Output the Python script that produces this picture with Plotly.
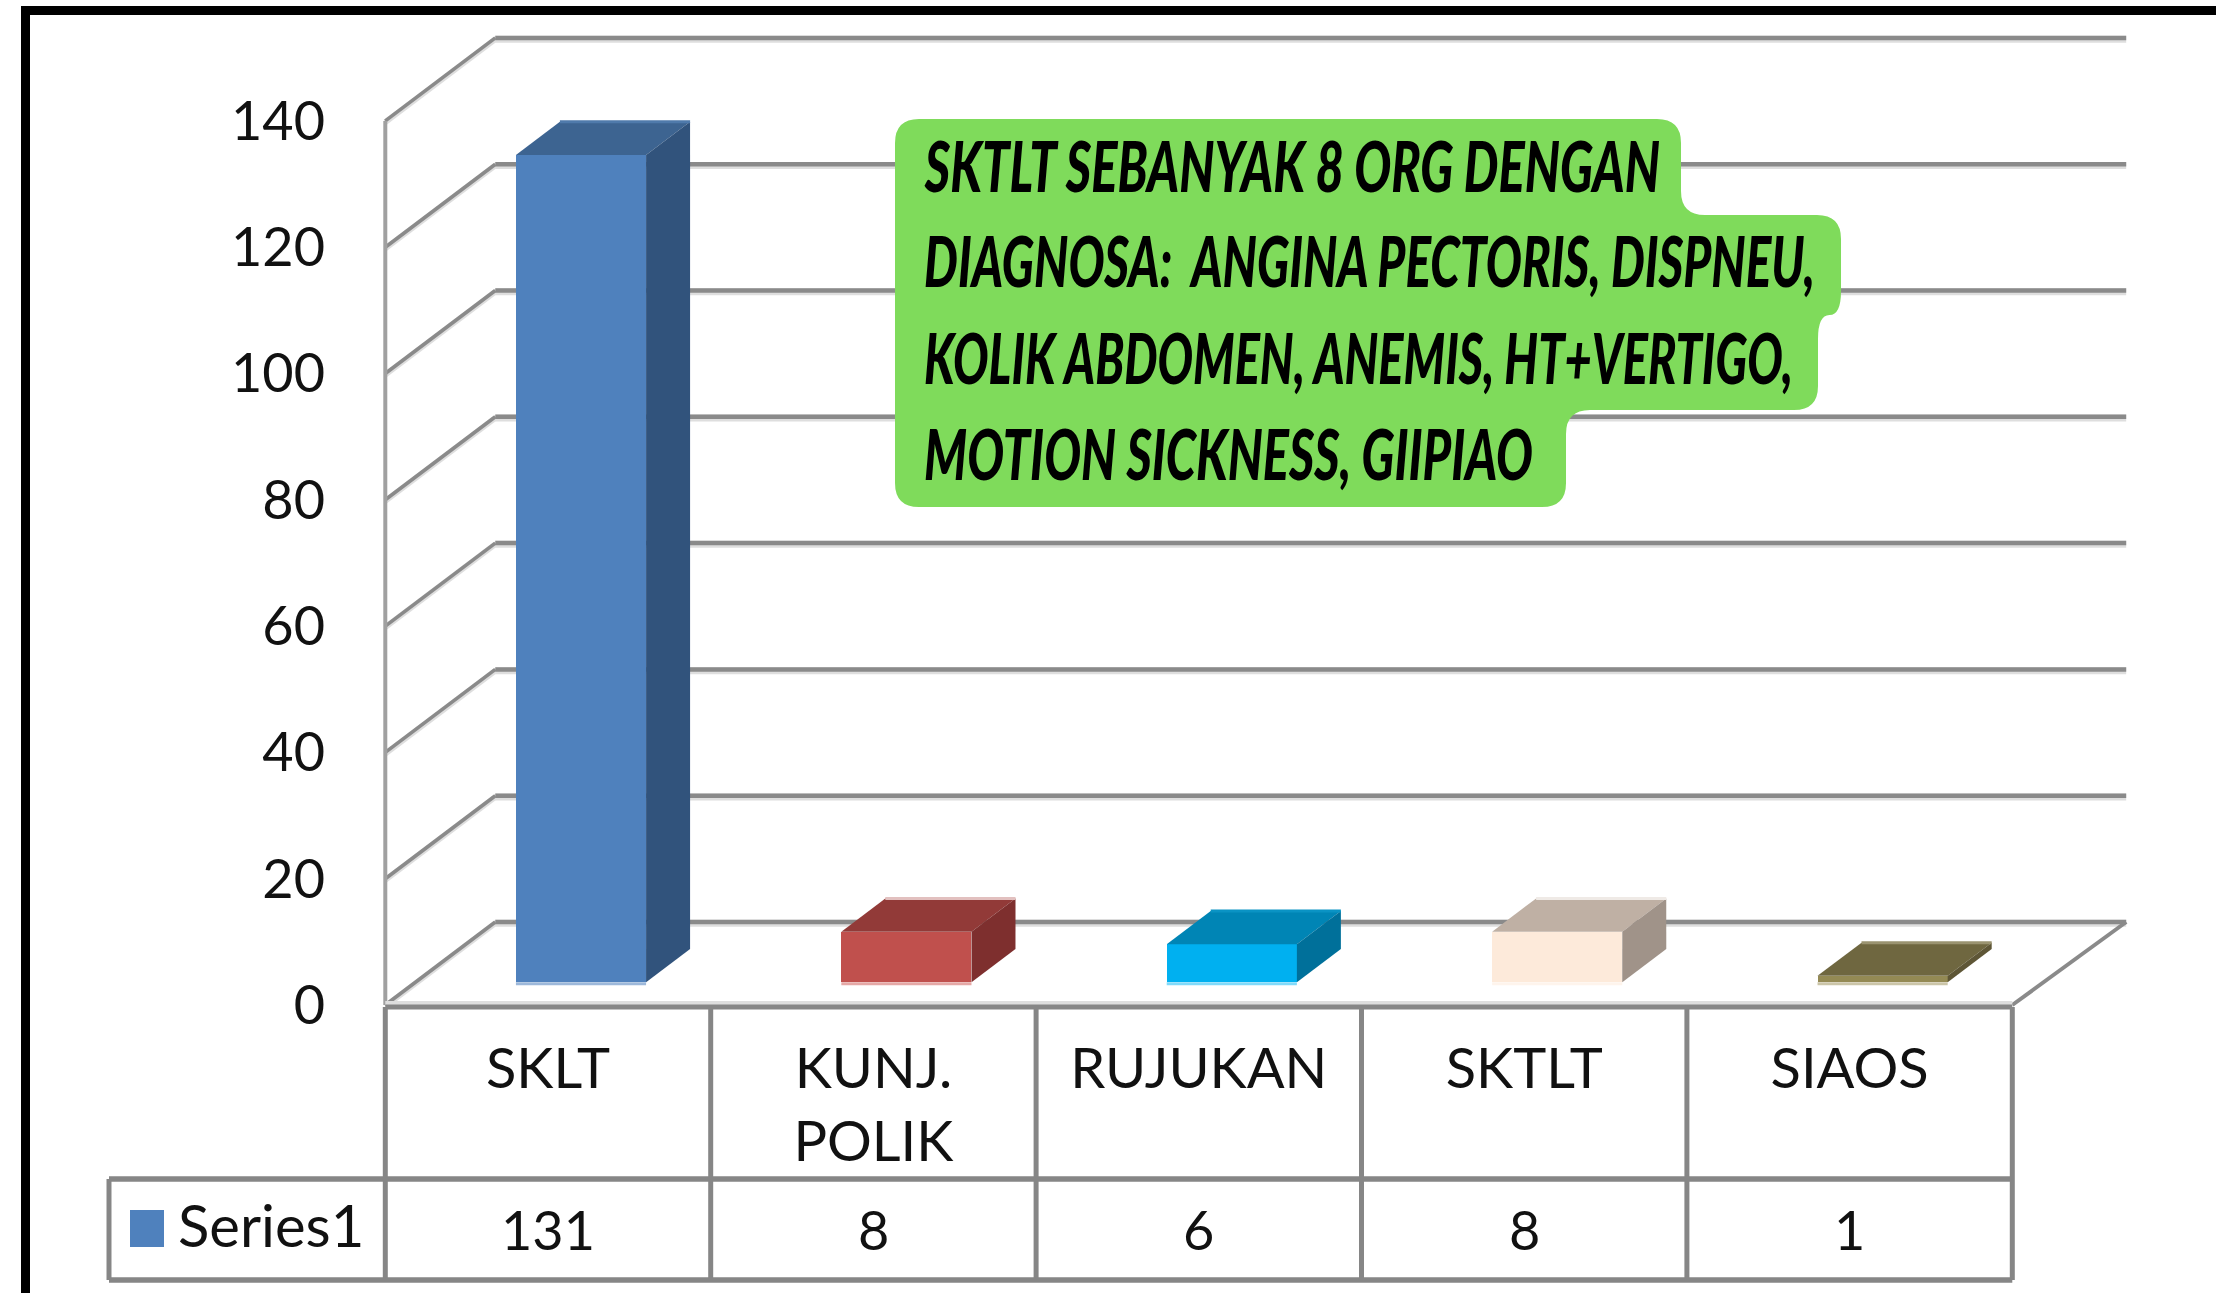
import json
import plotly.graph_objects as go

# --- data ---
categories = ["SKLT", "KUNJ.<br>POLIK", "RUJUKAN", "SKTLT", "SIAOS"]
values = [131, 8, 6, 8, 1]
series_name = "Series1"
y_ticks = [0, 20, 40, 60, 80, 100, 120, 140]
front_colors = ["#4F81BD", "#C0504D", "#00B0F0", "#FDEADA", "#948A54"]
top_colors = ["#3D6491", "#923A38", "#0085B5", "#BFB0A4", "#6F6740"]
side_colors = ["#31537C", "#7E2F2E", "#00709A", "#A09389", "#5E5636"]
edge_colors = ["#9DB8DA", "#E5A8A6", "#80DAFA", "#FEF4EC", "#CBC5A8"]
top_edge_colors = ["#4F7AAB", "#E2C0BF", "#0A93C4", "#EFEAE6", "#9A9370"]
note_lines = [
    "SKTLT SEBANYAK 8 ORG DENGAN",
    "DIAGNOSA:  ANGINA PECTORIS, DISPNEU,",
    "KOLIK ABDOMEN, ANEMIS, HT+VERTIGO,",
    "MOTION SICKNESS, GIIPIAO",
]
note_widths = [736, 891, 869, 609]

W, H = 2216, 1293
X0_PX, CAT_PX = 548.0, 325.4   # pixel of category 0, pixels per category
Y0_PX, UNIT_PX = 1005.0, 6.315  # pixel of value 0, pixels per value unit
def dx_(p): return (p - X0_PX) / CAT_PX
def dy_(p): return (Y0_PX - p) / UNIT_PX

DEPTH_X = 110 / CAT_PX   # wall depth, category units
DEPTH_Y = 83 / UNIT_PX   # wall depth, value units
LEFT, RIGHT = -0.5, len(categories) - 0.5
BACK_END = RIGHT + DEPTH_X + 0.012
BAR_W = 0.4
BAR_D0, BAR_D1 = 0.30, 0.70
BAR_LIFT = 0.275
FONT = "Lato"
GRID, GRID_LIGHT, TABLE = "#8A8A8A", "#DEDEDE", "#868686"

shapes = []
def seg(x0, y0, x1, y1, color, width):
    shapes.append(dict(type="line", xref="x", yref="y", x0=x0, y0=y0, x1=x1, y1=y1,
                       layer="below", line=dict(color=color, width=width)))

# 3-D box walls: gridlines (side wall + back wall)
for color, width, off in ((GRID_LIGHT, 7, -0.2), (GRID, 4.5, 0)):
    for v in y_ticks:
        seg(LEFT, v + off, LEFT + DEPTH_X, v + DEPTH_Y + off, color, width * 0.8)
        seg(LEFT + DEPTH_X, v + DEPTH_Y + off, BACK_END, v + DEPTH_Y + off, color, width)
seg(LEFT, 0, LEFT, y_ticks[-1], "#A0A0A0", 4)
seg(RIGHT, 0, BACK_END, DEPTH_Y, GRID, 4)
seg(LEFT, 0.3, RIGHT, 0.3, GRID_LIGHT, 4)

# data table
ROW_TOP, ROW_MID, ROW_BOT = dy_(1007), dy_(1179), dy_(1280)
TBL_LEFT = dx_(109)
for i in range(len(categories) + 1):
    seg(LEFT + i, ROW_TOP, LEFT + i, ROW_BOT, TABLE, 5)
seg(LEFT, ROW_TOP, RIGHT, ROW_TOP, TABLE, 5)
seg(TBL_LEFT, ROW_MID, RIGHT, ROW_MID, TABLE, 5.5)
seg(TBL_LEFT, ROW_BOT, RIGHT, ROW_BOT, TABLE, 5.5)
seg(TBL_LEFT, ROW_MID, TBL_LEFT, ROW_BOT, TABLE, 5)

# legend swatch
shapes.append(dict(type="rect", xref="x", yref="y", x0=dx_(130), x1=dx_(164), y0=dy_(1210), y1=dy_(1247),
                   fillcolor=front_colors[0], line=dict(width=0), layer="below"))

# green note balloon (rounded outline through the line boxes)
outline = [(895, 119), (1681, 119), (1681, 215), (1841, 215), (1841, 315), (1818, 315),
           (1818, 410), (1566, 410), (1566, 507), (895, 507)]
def rounded(pts, r=24):
    n = len(pts)
    out = []
    for i, (x, y) in enumerate(pts):
        px, py = pts[i - 1]
        nx, ny = pts[(i + 1) % n]
        lp = abs(x - px) + abs(y - py)
        ln = abs(x - nx) + abs(y - ny)
        r1 = min(r, lp / 2)
        r2 = min(r, ln / 2)
        a = (x + (px - x) / lp * r1, y + (py - y) / lp * r1)
        b = (x + (nx - x) / ln * r2, y + (ny - y) / ln * r2)
        out.append(("M" if i == 0 else "L") + f" {dx_(a[0]):.4f} {dy_(a[1]):.3f}")
        out.append(f"Q {dx_(x):.4f} {dy_(y):.3f} {dx_(b[0]):.4f} {dy_(b[1]):.3f}")
    return " ".join(out) + " Z"
shapes.append(dict(type="path", xref="x", yref="y", path=rounded(outline), fillcolor="#7FDB5B",
                   line=dict(width=0), layer="below"))

# frame
shapes.append(dict(type="line", xref="x", yref="y", x0=dx_(25.5), x1=dx_(25.5), y0=dy_(6), y1=dy_(H),
                   line=dict(color="black", width=9), layer="below"))
shapes.append(dict(type="line", xref="x", yref="y", x0=dx_(21), x1=dx_(W), y0=dy_(10.5), y1=dy_(10.5),
                   line=dict(color="black", width=9), layer="below"))

fig = go.Figure()
positions = list(range(len(categories)))
base = BAR_LIFT * DEPTH_Y
shift = BAR_D0 * DEPTH_X
fig.add_trace(go.Bar(
    x=[p + shift for p in positions], y=values, base=[base] * len(values), width=BAR_W,
    marker=dict(color=front_colors, line=dict(width=0)),
    name=series_name, showlegend=False, hoverinfo="y",
))
ddx = (BAR_D1 - BAR_D0) * DEPTH_X
ddy = (BAR_D1 - BAR_D0) * DEPTH_Y
for p, v, top, side, edge, tedge in zip(positions, values, top_colors, side_colors, edge_colors, top_edge_colors):
    xl = p + shift - BAR_W / 2
    xr = p + shift + BAR_W / 2
    t = base + v
    fig.add_trace(go.Scatter(x=[xl, xr, xr + ddx, xl + ddx, xl], y=[t, t, t + ddy, t + ddy, t],
                             mode="lines", fill="toself", fillcolor=top, line=dict(width=0),
                             showlegend=False, hoverinfo="skip"))
    fig.add_trace(go.Scatter(x=[xr, xr + ddx, xr + ddx, xr, xr], y=[base, base + ddy, t + ddy, t, base],
                             mode="lines", fill="toself", fillcolor=side, line=dict(width=0),
                             showlegend=False, hoverinfo="skip"))
    fig.add_trace(go.Scatter(x=[xl, xr], y=[base - 0.25, base - 0.25], mode="lines",
                             line=dict(color=edge, width=3), showlegend=False, hoverinfo="skip"))
    fig.add_trace(go.Scatter(x=[xl + ddx, xr + ddx], y=[t + ddy, t + ddy], mode="lines",
                             line=dict(color=tedge, width=3), showlegend=False, hoverinfo="skip"))

annotations = []
txt = dict(size=54, color="#111111", family=FONT)
tick = dict(size=56, color="#111111", family=FONT)
for p, v in zip(positions, values):
    annotations.append(dict(x=p, y=dy_(1229), xref="x", yref="y", text=str(v), showarrow=False, font=txt))
annotations.append(dict(x=dx_(271), y=dy_(1224), xref="x", yref="y", text=series_name, showarrow=False,
                        font=dict(size=58, color="#111111", family=FONT)))
for line, cy in zip(note_lines, (165, 260, 357, 453)):
    annotations.append(dict(x=dx_(922), y=dy_(cy), xref="x", yref="y", xanchor="left", text=line,
                            showarrow=False,
                            font=dict(size=70, color="black", family=FONT, weight=900, style="italic")))

fig.update_layout(
    width=W, height=H, margin=dict(l=0, r=0, t=0, b=0, autoexpand=False),
    paper_bgcolor="white", plot_bgcolor="rgba(0,0,0,0)", showlegend=False,
    shapes=shapes, annotations=annotations, bargap=0,
    xaxis=dict(range=[dx_(0), dx_(W)], tickmode="array", tickvals=positions, ticktext=categories,
               showgrid=False, zeroline=False, showline=False, ticks="", tickfont=tick,
               anchor="free", position=1 - Y0_PX / H, ticklabelstandoff=26, automargin=False),
    yaxis=dict(range=[dy_(H), dy_(0)], tickmode="array", tickvals=y_ticks,
               showgrid=False, zeroline=False, showline=False, ticks="", tickfont=txt,
               anchor="free", position=385 / W, ticklabelstandoff=60, automargin=False),
)

# The note's poster lettering is very condensed: squeeze each real text line to its width.
post = """
document.body.style.margin = '0';
var LINES = %s, WIDTHS = %s;
document.getElementById('{plot_id}').querySelectorAll('.annotation-text').forEach(function (t) {
  var i = LINES.indexOf(t.textContent.replace(/\\u00a0/g, ' '));
  if (i < 0) return;
  var b = t.getBBox();
  var s = WIDTHS[i] / b.width;
  t.setAttribute('transform', 'translate(' + b.x + ',0) scale(' + s + ',1) translate(' + (-b.x) + ',0)');
});
""" % (json.dumps(note_lines), json.dumps(note_widths))
fig.write_html("out.html", config=dict(displayModeBar=False), post_script=post)
